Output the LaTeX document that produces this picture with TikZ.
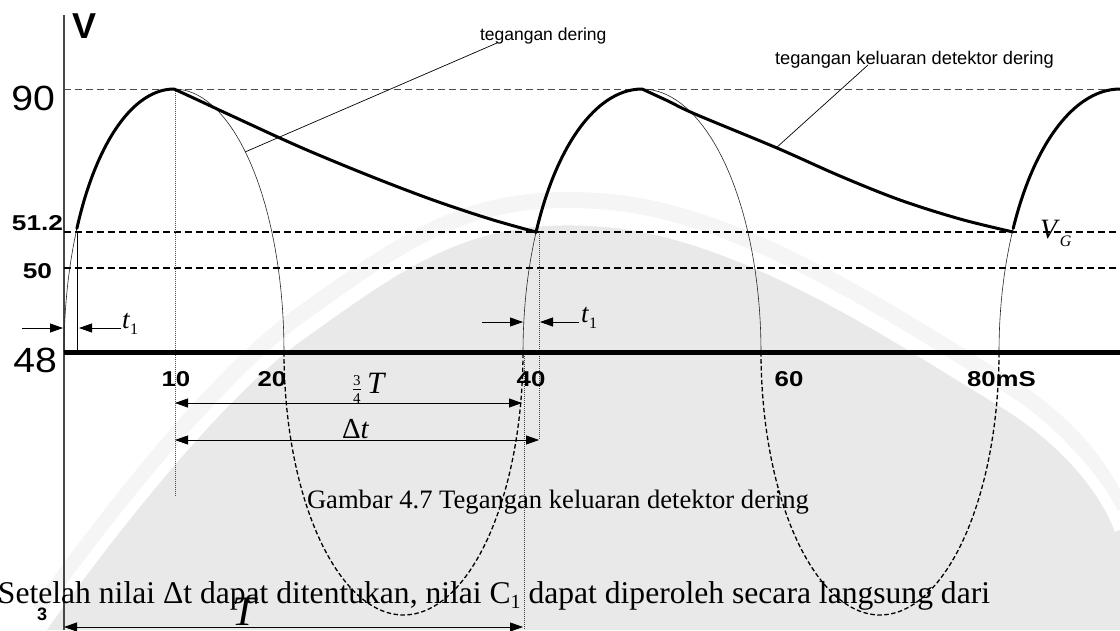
\documentclass[tikz,border=0pt]{standalone}
\usepackage{fontspec}
\setmainfont{Liberation Serif}
\newfontfamily\arialf{Liberation Sans}
\usepackage{graphicx}
\usetikzlibrary{arrows.meta}
\newcommand{\fs}[1]{\fontsize{#1}{#1}\selectfont}
\newcommand{\wide}[2]{\scalebox{#1}[1]{#2}}
\begin{document}
\begin{tikzpicture}[x=1pt,y=-1pt,
  every node/.style={inner sep=0pt, outer sep=0pt},
  ringtop/.style={line width=0.6pt, black!85},
  ringbot/.style={line width=1.3pt, dash pattern=on 4.5pt off 2.5pt},
  outcurve/.style={line width=3pt, line join=round, line cap=round},
  reflineA/.style={line width=0.9pt, gray!60!black, dash pattern=on 7pt off 4pt},
  reflineB/.style={line width=1.3pt, dash pattern=on 7pt off 4pt},
  guide/.style={line width=0.6pt, dash pattern=on 1pt off 1pt, black!75},
  tipr/.style={line width=0.8pt, -{Triangle[length=13pt,width=9pt]}},
  dimline/.style={line width=0.8pt, {Triangle[length=13pt,width=9pt]}-{Triangle[length=13pt,width=9pt]}},
  leader/.style={line width=0.7pt},
  biglbl/.style={font=\arialf\fs{35}},
  boldlbl/.style={font=\arialf\bfseries\fs{21.5}},
  note/.style={font=\arialf\fs{17.5}},
  caption/.style={font=\rmfamily\fs{26.6}},
]
\useasboundingbox (0,0) rectangle (1120,630);

% faint background logo area
\draw[gray!8, line width=16pt, shift={(0,-20)}] plot[smooth, tension=0.7] coordinates {(40,630) (300,335) (610,222) (1000,400) (1120,530)};
\fill[gray!17] plot[smooth, tension=0.7] coordinates {(40,630) (300,335) (610,222) (1000,400) (1120,530)} -- (1120,630) -- cycle;
\draw[white, line width=11pt] plot[smooth, tension=0.7] coordinates {(40,630) (300,335) (610,222) (1000,400) (1120,530)};

% axis
\coordinate (axtop) at (64,15);
\coordinate (axbot) at (64,630);
\draw[line width=1.4pt, gray!55!black] (axtop) -- (axbot);

% reference levels
\coordinate (l90a) at (64,89);   \coordinate (l90b) at (1120,89);
\coordinate (l512a) at (64,232); \coordinate (l512b) at (1120,232);
\coordinate (l50a) at (64,268);  \coordinate (l50b) at (1120,268);
\draw[reflineA] (l90a) -- (l90b);
\draw[reflineB] (l512a) -- (l512b);
\draw[reflineB] (l50a) -- (l50b);

% guide verticals
\coordinate (g10a) at (175,89);  \coordinate (g10b) at (175,497);
\coordinate (g1a) at (77,232);   \coordinate (g1b) at (77,352);
\coordinate (g40a) at (539,232); \coordinate (g40b) at (539,440);
\coordinate (g38a) at (524,352); \coordinate (g38b) at (524,630);
\draw[guide, gray!60!black] (g10a) -- (g10b);
\draw[line width=0.6pt] (g1a) -- (g1b);
\draw[guide] (g40a) -- (g40b);
\draw[guide] (g38a) -- (g38b);

% ringing voltage (thin above, dashed below)
\draw[ringtop] plot[domain=180:0, samples=80] ({174+110*cos(\x)}, {352-263*sin(\x)});
\draw[ringbot] plot[domain=180:360, samples=80] ({403.5+119.5*cos(\x)}, {352-263*sin(\x)});
\draw[ringtop] plot[domain=180:0, samples=80] ({642+119*cos(\x)}, {352-263*sin(\x)});
\draw[ringbot] plot[domain=180:360, samples=80] ({880+119*cos(\x)}, {352-263*sin(\x)});
\draw[ringtop] plot[domain=180:90, samples=50] ({1120+121*cos(\x)}, {352-263*sin(\x)});

% baseline 48
\coordinate (b48a) at (64,352); \coordinate (b48b) at (1120,352);
\draw[line width=5pt] (b48a) -- (b48b);

% detector output (thick)
\draw[outcurve] plot[domain=152:90, samples=40] ({174+110*cos(\x)}, {352-263*sin(\x)})
  -- plot[smooth, tension=0.55] coordinates {(174,89) (200,101) (230,115) (300,147) (370,176) (433,200) (490,219) (536,232)};
\draw[outcurve] plot[domain=153:90, samples=40] ({642+119*cos(\x)}, {352-263*sin(\x)})
  -- plot[smooth, tension=0.55] coordinates {(642,89) (668,101) (695,114) (777,148) (840,176) (900,200) (960,219) (1013,232)};
\draw[outcurve] plot[domain=152:90, samples=40] ({1120+121*cos(\x)}, {352-263*sin(\x)});

% axis labels
\node[anchor=base west, font=\arialf\bfseries\fs{36}] (vlab) at (72,38) {V};
\node[anchor=base east, biglbl] (n90) at (55,110) {\wide{1.12}{90}};
\node[anchor=base east, biglbl] (n48) at (57,372) {\wide{1.12}{48}};
\node[anchor=base east, boldlbl] (n512) at (63,230) {\wide{1.22}{51.2}};
\node[anchor=base east, boldlbl] (n50) at (52,278) {\wide{1.22}{50}};
\node[anchor=base, boldlbl] (n10) at (176,386) {\wide{1.2}{10}};
\node[anchor=base, boldlbl] (n20) at (272,386) {\wide{1.2}{20}};
\node[anchor=base, boldlbl] (n40) at (531,386) {\wide{1.2}{40}};
\node[anchor=base, boldlbl] (n60) at (789,386) {\wide{1.2}{60}};
\node[anchor=base west, boldlbl] (n80) at (967,386) {\wide{1.2}{80mS}};

% t1 arrows
\coordinate (ta1) at (22,328);  \coordinate (ta2) at (63,328);
\coordinate (tb1) at (121,328); \coordinate (tb2) at (79,328);
\draw[tipr] (ta1) -- (ta2);
\draw[tipr] (tb1) -- (tb2);
\node[anchor=base west, font=\rmfamily\fs{27}] (t1a) at (122,328) {\textit{t}\raisebox{-6pt}{\fs{16}1}};
\coordinate (tc1) at (482,322); \coordinate (tc2) at (523,322);
\coordinate (td1) at (579,322); \coordinate (td2) at (540,322);
\draw[tipr] (tc1) -- (tc2);
\draw[tipr] (td1) -- (td2);
\node[anchor=base west, font=\rmfamily\fs{27}] (t1b) at (581,322) {\textit{t}\raisebox{-6pt}{\fs{16}1}};

% V_G
\node[anchor=base west, font=\rmfamily\fs{28}] (vg) at (1040,238) {\textit{V}\raisebox{-8pt}{\fs{16}\textit{G}}};

% dimension arrows
\coordinate (d34a) at (175,403); \coordinate (d34b) at (522,403);
\draw[dimline] (d34a) -- (d34b);
\node[anchor=base west, font=\rmfamily\fs{31}] (l34) at (352,393)
  {\raisebox{-2pt}{$\frac{\hbox{\fs{15}3}}{\hbox{\fs{15}4}}$}\,\textit{T}};
\coordinate (dta) at (175,440); \coordinate (dtb) at (539,440);
\draw[dimline] (dta) -- (dtb);
\node[anchor=base west, font=\rmfamily\fs{29}] (ldt) at (342,438) {\char"0394\textit{t}};
\coordinate (dTa) at (64,627); \coordinate (dTb) at (523,627);
\draw[dimline] (dTa) -- (dTb);
\node[anchor=base west, font=\rmfamily\itshape\fs{42}] (lT) at (232,625) {T};
\node[anchor=base west, font=\arialf\bfseries\fs{18}] (l3) at (37,620) {3};

% annotations
\node[anchor=base west, note] (nd) at (480,40) {tegangan dering};
\coordinate (ndp) at (245,152);
\draw[leader] (497,43) -- (ndp);
\node[anchor=base west, note, font=\arialf\fs{18.3}] (nk) at (775,64) {tegangan keluaran detektor dering};
\coordinate (nkp) at (776,148);
\draw[leader] (868,65) -- (nkp);

% captions
\node[anchor=base west, caption] (cap) at (307,508) {Gambar 4.7 Tegangan keluaran detektor dering};
\node[anchor=base west, font=\rmfamily\fs{31.6}] (txt) at (-2,603) {Setelah nilai \char"0394t dapat ditentukan, nilai C\raisebox{-5pt}{\fs{20}1} dapat diperoleh secara langsung dari};
\end{tikzpicture}
\end{document}
